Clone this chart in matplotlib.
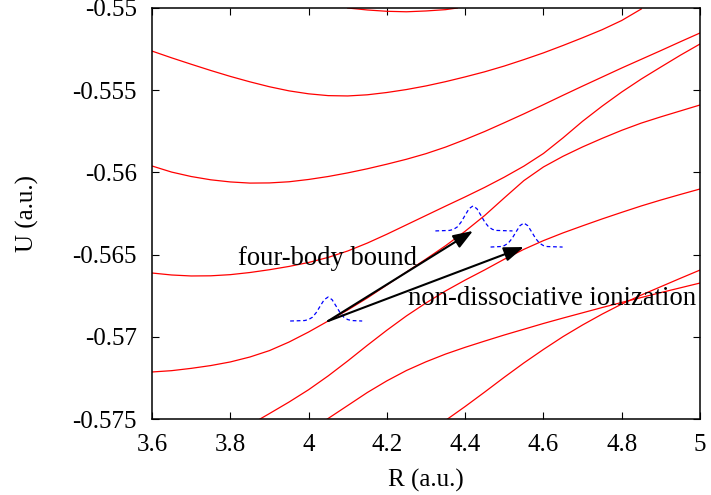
import matplotlib
matplotlib.use("Agg")
import matplotlib.pyplot as plt
from matplotlib.ticker import FormatStrFormatter, MultipleLocator

# ------------------------------------------------------------ potential curves
R_A = [4.10, 4.15, 4.20, 4.25, 4.30, 4.35, 4.38]
U_A = [-0.55000, -0.55012, -0.55020, -0.55023, -0.55018, -0.55010, -0.55000]

R_B = [3.60, 3.65, 3.70, 3.75, 3.80, 3.85, 3.90, 3.95, 4.00, 4.05, 4.10, 4.15, 4.20,
       4.25, 4.30, 4.35, 4.40, 4.45, 4.50, 4.55, 4.60, 4.65, 4.70, 4.75, 4.80, 4.85]
U_B = [-0.55262, -0.55303, -0.55342, -0.55380, -0.55416, -0.55449, -0.55479, -0.55504,
       -0.55522, -0.55533, -0.55535, -0.55528, -0.55514, -0.55496, -0.55474, -0.55448,
       -0.55419, -0.55388, -0.55353, -0.55314, -0.55273, -0.55228, -0.55181, -0.55132,
       -0.55076, -0.55006]

R_GRID = [3.60, 3.65, 3.70, 3.75, 3.80, 3.85, 3.90, 3.95, 4.00, 4.05, 4.10, 4.15, 4.20,
          4.25, 4.30, 4.35, 4.40, 4.45, 4.50, 4.55, 4.60, 4.65, 4.70, 4.75, 4.80, 4.85,
          4.90, 4.95, 5.00]
U_C = [-0.55961, -0.55998, -0.56025, -0.56045, -0.56058, -0.56065, -0.56064, -0.56057,
       -0.56043, -0.56025, -0.56003, -0.55978, -0.55950, -0.55920, -0.55886, -0.55846,
       -0.55800, -0.55751, -0.55698, -0.55644, -0.55588, -0.55531, -0.55475, -0.55420,
       -0.55365, -0.55312, -0.55259, -0.55205, -0.55152]
U_D = [-0.56612, -0.56624, -0.56630, -0.56629, -0.56622, -0.56609, -0.56592, -0.56572,
       -0.56548, -0.56517, -0.56478, -0.56430, -0.56376, -0.56319, -0.56262, -0.56205,
       -0.56149, -0.56091, -0.56029, -0.55962, -0.55885, -0.55790, -0.55689, -0.55597,
       -0.55511, -0.55432, -0.55359, -0.55287, -0.55219]
U_E = [-0.57214, -0.57206, -0.57192, -0.57175, -0.57153, -0.57123, -0.57084, -0.57032,
       -0.56971, -0.56904, -0.56837, -0.56764, -0.56685, -0.56606, -0.56527, -0.56446,
       -0.56358, -0.56262, -0.56155, -0.56050, -0.55967, -0.55902, -0.55845, -0.55793,
       -0.55744, -0.55700, -0.55662, -0.55626, -0.55590]

R_F = [3.876, 3.90, 3.95, 4.00, 4.05, 4.10, 4.15, 4.20, 4.25, 4.30, 4.35, 4.40, 4.45,
       4.50, 4.55, 4.60, 4.65, 4.70, 4.75, 4.80, 4.85, 4.90, 4.95, 5.00]
U_F = [-0.57500, -0.57467, -0.57397, -0.57322, -0.57238, -0.57147, -0.57052, -0.56960,
       -0.56873, -0.56794, -0.56721, -0.56655, -0.56593, -0.56528, -0.56468, -0.56415,
       -0.56368, -0.56325, -0.56283, -0.56243, -0.56204, -0.56168, -0.56134, -0.56101]

R_G = [4.048, 4.10, 4.15, 4.20, 4.25, 4.30, 4.35, 4.40, 4.45, 4.50, 4.55, 4.60, 4.65,
       4.70, 4.75, 4.80, 4.85, 4.90, 4.95, 5.00]
U_G = [-0.57500, -0.57418, -0.57339, -0.57268, -0.57205, -0.57152, -0.57105, -0.57064,
       -0.57026, -0.56989, -0.56954, -0.56919, -0.56886, -0.56854, -0.56822, -0.56791,
       -0.56761, -0.56731, -0.56702, -0.56673]

R_H = [4.355, 4.40, 4.45, 4.50, 4.55, 4.60, 4.65, 4.70, 4.75, 4.80, 4.85, 4.90, 4.95, 5.00]
U_H = [-0.57500, -0.57424, -0.57336, -0.57246, -0.57159, -0.57077, -0.56999, -0.56928,
       -0.56862, -0.56801, -0.56746, -0.56695, -0.56644, -0.56594]

curvas = [(R_A, U_A), (R_B, U_B), (R_GRID, U_C), (R_GRID, U_D), (R_GRID, U_E),
          (R_F, U_F), (R_G, U_G), (R_H, U_H)]

# ------------------------------------------------------------ wave packets
PACOTE_DR = [-0.06, -0.05, -0.04, -0.03, -0.02, -0.01, 0.0, 0.01, 0.02, 0.03, 0.04, 0.05, 0.06]
PACOTE_FORMA = [0.02, 0.06, 0.16, 0.36, 0.63, 0.89, 1.0, 0.89, 0.63, 0.36, 0.16, 0.06, 0.02]
# (centro R, base U, altura, extremo esq., extremo dir.)
PACOTES = [(4.05, -0.56904, 0.00146, 3.953, 4.137),
           (4.42, -0.56356, 0.00152, 4.324, 4.521),
           (4.55, -0.56454, 0.00146, 4.465, 4.649)]

# ------------------------------------------------------------ arrows / labels
SETA_ORIGEM = (4.05, -0.56904)
SETA_4CORPOS = (4.42, -0.56356)
SETA_IONIZ = (4.55, -0.56454)

plt.rcParams.update({"font.family": ["Liberation Serif", "DejaVu Serif"],
                     "font.size": 18, "axes.unicode_minus": False})
fig = plt.figure(figsize=(7.11, 4.95), dpi=100)
ax = fig.add_axes([152 / 711, 76 / 495, 548 / 711, 411 / 495])

for r, u in curvas:
    ax.plot(r, u, color="#ff0000", lw=0.9)

for r0, u0, h, esq, dir_ in PACOTES:
    xs = [esq] + [r0 + d for d in PACOTE_DR] + [dir_]
    ys = [u0] + [u0 + h * f for f in PACOTE_FORMA] + [u0]
    ax.plot(xs, ys, color="#0000ff", lw=0.9, dashes=(3, 2.2))

for tip in (SETA_4CORPOS, SETA_IONIZ):
    ax.annotate("", xy=tip, xytext=SETA_ORIGEM,
                arrowprops=dict(arrowstyle="-|>,head_length=0.6,head_width=0.22",
                                lw=1.5, color="black", shrinkA=0, shrinkB=0,
                                mutation_scale=20))

ax.text(3.820, -0.56563, "four-body bound", fontsize=19.2, ha="left", va="baseline")
ax.text(4.253, -0.56807, "non-dissociative ionization", fontsize=19.2,
        ha="left", va="baseline")

ax.set_xlim(3.6, 5.0)
ax.set_ylim(-0.575, -0.55)
ax.xaxis.set_major_locator(MultipleLocator(0.2))
ax.yaxis.set_major_locator(MultipleLocator(0.005))
ax.xaxis.set_major_formatter(FormatStrFormatter("%g"))
ax.yaxis.set_major_formatter(FormatStrFormatter("%g"))
ax.tick_params(direction="in", length=5, width=0.8, top=True, right=True, pad=11)
for s in ax.spines.values():
    s.set_linewidth(1.1)

ax.set_xlabel("R (a.u.)", labelpad=9)
ax.set_ylabel("U (a.u.)", labelpad=24)

fig.savefig("out.png", dpi=100)
